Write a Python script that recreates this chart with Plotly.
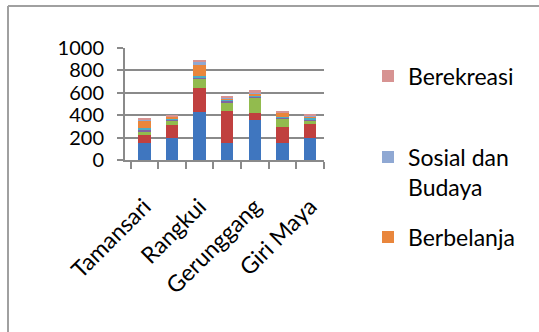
import plotly.graph_objects as go

# Districts (every other one carries a visible tick label)
districts = ["Tamansari", "Pangkal Balam", "Rangkui", "Bukit Intan",
             "Gerunggang", "Gabek", "Giri Maya"]
labeled = ["Tamansari", "Rangkui", "Gerunggang", "Giri Maya"]

# Trip counts per purpose, stacked bottom to top
bekerja = [150, 200, 430, 150, 355, 155, 200]
sekolah = [75, 110, 215, 290, 65, 140, 125]
kesehatan = [25, 45, 80, 75, 140, 75, 25]
keagamaan = [25, 10, 15, 15, 10, 5, 15]
keluarga = [15, 5, 10, 10, 5, 5, 10]
berbelanja = [60, 15, 100, 10, 15, 40, 15]
sosial_budaya = [10, 5, 30, 5, 10, 5, 5]
berekreasi = [10, 15, 10, 10, 25, 5, 15]

series = [
    ("Bekerja", bekerja, "#3F76BF", None),
    ("Sekolah", sekolah, "#C0403F", None),
    ("Kesehatan", kesehatan, "#92BB4E", None),
    ("Keagamaan", keagamaan, "#8064A2", None),
    ("Urusan Keluarga", keluarga, "#4BACC6", None),
    ("Berbelanja", berbelanja, "#E9863C", "legend3"),
    ("Sosial dan<br>Budaya", sosial_budaya, "#8FA8D3", "legend2"),
    ("Berekreasi", berekreasi, "#D79392", "legend"),
]

font_family = "Lato, 'Open Sans', sans-serif"
fsize = 23

fig = go.Figure()
for name, vals, color, leg in series:
    fig.add_trace(go.Bar(
        x=districts, y=vals, name=name,
        marker=dict(color=color, line=dict(width=0)),
        showlegend=leg is not None,
        legend=leg if leg else "legend",
    ))

W, H = 539, 332
ml, mr, mt, mb = 125, 215, 48, 172
pw, ph = W - ml - mr, H - mt - mb


def px_x(x):
    return (x - ml) / pw


def px_y(y):
    return (H - mb - y) / ph


legend_common = dict(
    font=dict(family=font_family, size=fsize, color="#000000"),
    bgcolor="rgba(0,0,0,0)", xanchor="left", yanchor="middle",
    itemwidth=30, valign="top",
)

fig.update_layout(
    width=W, height=H,
    margin=dict(l=ml, r=mr, t=mt, b=mb),
    paper_bgcolor="white", plot_bgcolor="white",
    barmode="stack", bargap=0.55,
    font=dict(family=font_family, size=fsize, color="#000000"),
    xaxis=dict(
        range=[-0.7, 6.5],
        tickvals=districts,
        ticktext=[d if d in labeled else "" for d in districts],
        tickangle=-45, tickson="boundaries",
        ticks="outside", ticklen=7, tickcolor="#8A8A8A", tickwidth=2,
        showline=True, linecolor="#8A8A8A", linewidth=2,
        showgrid=False, ticklabelstandoff=22,
        tickfont=dict(size=fsize),
    ),
    yaxis=dict(
        range=[0, 1000], dtick=200,
        showgrid=True, gridcolor="#8A8A8A", gridwidth=2,
        showline=True, linecolor="#8A8A8A", linewidth=2,
        ticks="outside", ticklen=6, tickcolor="#8A8A8A", tickwidth=2,
        ticklabelstandoff=9, zeroline=False,
        tickfont=dict(size=20),
    ),
    legend=dict(x=px_x(368), y=px_y(76), **legend_common),
    legend2=dict(x=px_x(368), y=px_y(172), **legend_common),
    legend3=dict(x=px_x(368), y=px_y(237), **legend_common),
    shapes=[
        # outer chart frame (left and top edges)
        dict(type="line", xref="paper", yref="paper",
             x0=px_x(8), x1=px_x(W + 5), y0=px_y(6), y1=px_y(6),
             line=dict(color="#A0A0A0", width=2)),
        dict(type="line", xref="paper", yref="paper",
             x0=px_x(8), x1=px_x(8), y0=px_y(6), y1=px_y(H + 5),
             line=dict(color="#A0A0A0", width=2)),
    ],
)

fig.write_html("out.html")
